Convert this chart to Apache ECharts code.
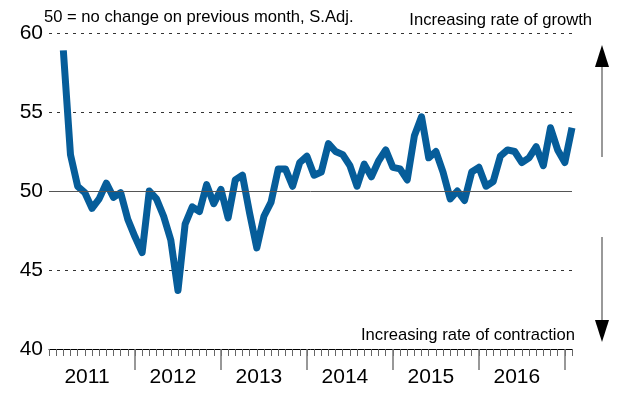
<!DOCTYPE html>
<html>
<head>
<meta charset="utf-8">
<script src="https://cdn.jsdelivr.net/npm/echarts@6/dist/echarts.min.js"></script>
<style>
html,body{margin:0;padding:0;background:#fff;}
#c{width:620px;height:400px;}
</style>
</head>
<body>
<div id="c"></div>
<script>
// Months Jan 2011 .. Feb 2017
var months = [];
for (var y = 2011; y <= 2017; y++) {
  for (var m = 1; m <= 12; m++) {
    if (y === 2017 && m > 2) break;
    months.push(y + '-' + (m < 10 ? '0' + m : m));
  }
}
// Index values, Mar 2011 .. Feb 2017 (Jan/Feb 2011 empty)
var values = [null, null,
  58.9, 52.3, 50.3, 49.9, 48.9, 49.5, 50.5, 49.6, 49.9, 48.2,
  47.1, 46.1, 50.0, 49.5, 48.4, 46.9, 43.7, 47.9, 49.0, 48.7,
  50.4, 49.2, 50.1, 48.3, 50.7, 51.0, 48.6, 46.4, 48.4, 49.3,
  51.4, 51.4, 50.3, 51.8, 52.2, 51.0, 51.2, 53.0, 52.5, 52.3,
  51.6, 50.3, 51.7, 50.9, 51.9, 52.6, 51.5, 51.4, 50.7, 53.5,
  54.7, 52.1, 52.5, 51.2, 49.5, 50.0, 49.4, 51.2, 51.5, 50.3,
  50.6, 52.2, 52.6, 52.5, 51.8, 52.1, 52.8, 51.6, 54.0, 52.6,
  51.8, 54.0];
var yTicks = [40, 45, 50, 55, 60];
var noteText = '50 = no change on previous month, S.Adj.';
var growthText = 'Increasing rate of growth';
var contractionText = 'Increasing rate of contraction';

var FONT = '"Liberation Sans", Arial, sans-serif';
var chart = echarts.init(document.getElementById('c'), null, {renderer: 'canvas'});
chart.setOption({
  backgroundColor: '#fff',
  animation: false,
  grid: {left: 49, right: 48, top: 33, bottom: 51, containLabel: false},
  xAxis: [{
    type: 'category',
    data: months,
    boundaryGap: false,
    axisLine: {show: true, lineStyle: {color: '#000', width: 1}},
    axisTick: {show: true, interval: 0, length: 7, lineStyle: {color: '#666', width: 1}},
    axisLabel: {show: false},
    splitLine: {show: false}
  }, {
    type: 'category',
    data: months,
    boundaryGap: false,
    position: 'bottom',
    axisLine: {show: false},
    axisTick: {show: true, length: 21, lineStyle: {color: '#777', width: 1.5},
      interval: function (i) { return i % 12 === 0 && i > 0; }},
    axisLabel: {show: true, margin: 18, fontSize: 21, color: '#000', fontFamily: FONT,
      padding: [0, 10, 0, 0],
      interval: function (i) { return i % 12 === 6; },
      formatter: function (v) { return v.slice(0, 4); }},
    splitLine: {show: false}
  }],
  yAxis: {
    type: 'value',
    min: yTicks[0], max: yTicks[yTicks.length - 1], interval: 5,
    axisLine: {show: false},
    axisTick: {show: false},
    axisLabel: {margin: 6, fontSize: 21, color: '#000', fontFamily: FONT},
    splitLine: {show: true, lineStyle: {color: '#333', type: [3, 5], width: 1}}
  },
  series: [{
    type: 'line',
    data: values,
    xAxisIndex: 0,
    symbol: 'none',
    connectNulls: false,
    lineStyle: {color: '#065d9a', width: 7, join: 'round'},
    markLine: {
      silent: true,
      symbol: 'none',
      label: {show: false},
      lineStyle: {color: '#555', type: 'solid', width: 1},
      data: [{yAxis: 50}]
    },
    z: 3
  }],
  graphic: [
    {type: 'text', left: 44, top: 9, style: {text: noteText, fill: '#000', font: '16.6px ' + FONT}},
    {type: 'text', right: 28, top: 12, style: {text: growthText, fill: '#000', font: '16.6px ' + FONT}},
    {type: 'text', right: 45, top: 327, style: {text: contractionText, fill: '#000', font: '16.6px ' + FONT}},
    {type: 'line', shape: {x1: 602, y1: 66, x2: 602, y2: 157}, style: {stroke: '#999', lineWidth: 2}},
    {type: 'polygon', shape: {points: [[602, 45], [595, 67], [609, 67]]}, style: {fill: '#000'}},
    {type: 'line', shape: {x1: 602, y1: 237, x2: 602, y2: 321}, style: {stroke: '#999', lineWidth: 2}},
    {type: 'polygon', shape: {points: [[602, 342], [595, 320], [609, 320]]}, style: {fill: '#000'}}
  ]
});
</script>
</body>
</html>
